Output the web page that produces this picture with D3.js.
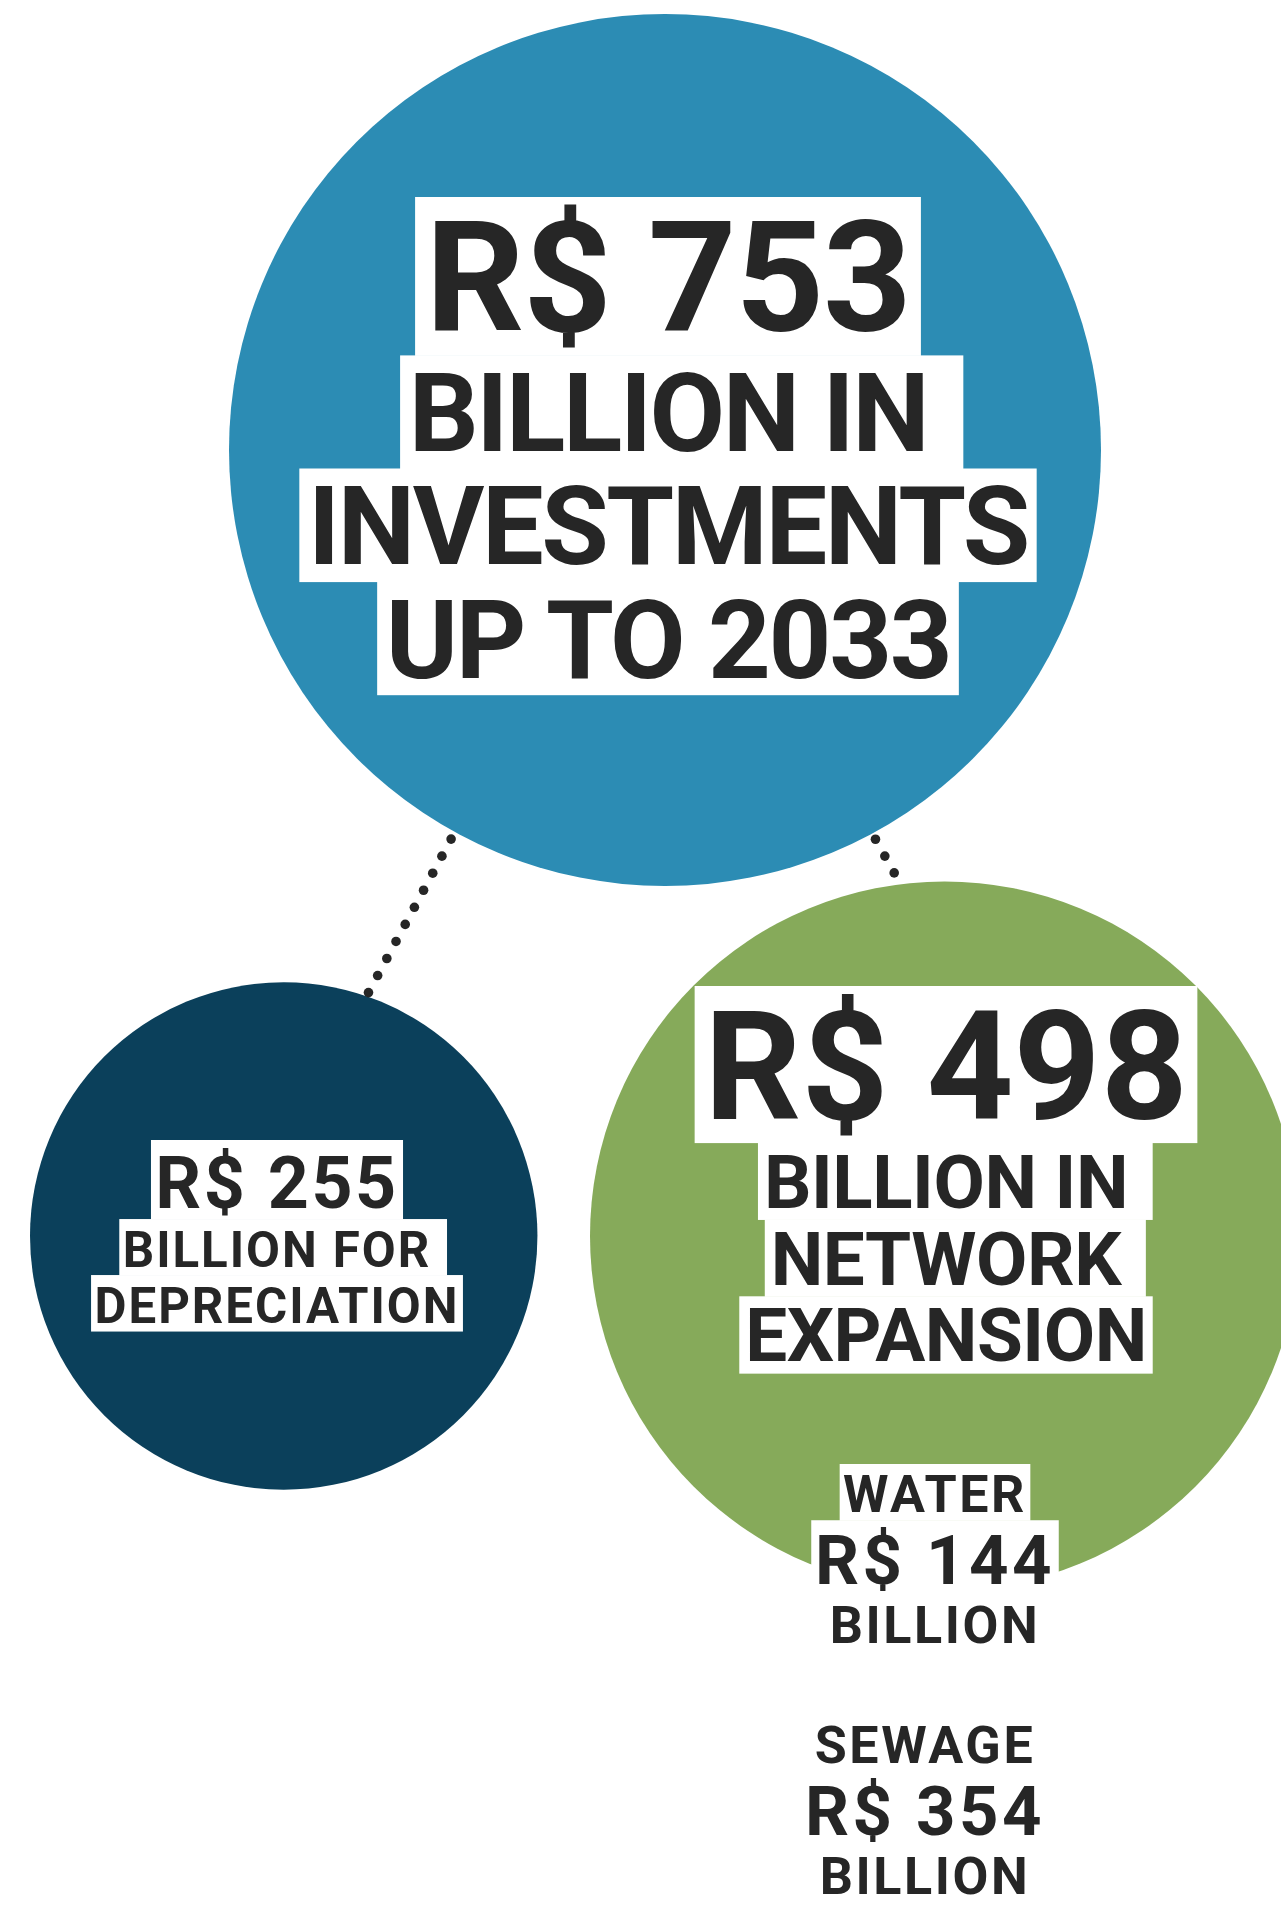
<!DOCTYPE html>
<html lang="en">
<head>
<meta charset="UTF-8">
<title>R$ 753 billion in investments up to 2033</title>
<script src="https://d3js.org/d3.v7.min.js"></script>
<style>
    body { margin: 0; background: #fff; }
    text { font-family: Roboto, "Noto Sans", sans-serif; font-weight: 700; fill: #262626; }
</style>
</head>
<body>
<svg id="chart"></svg>
<script>
// ---- data ----
const circleKeys = ["total", "depreciation", "expansion"];
const circleValues = [753, 255, 498];
const circleCaptions = [
    ["BILLION IN ", "INVESTMENTS", "UP TO 2033"],
    ["BILLION FOR ", "DEPRECIATION"],
    ["BILLION IN ", "NETWORK ", "EXPANSION"]
];
const splitNames = ["WATER", "SEWAGE"];
const splitValues = [144, 354];
const links = [["total", "depreciation"], ["total", "expansion"]];

// ---- layout ----
var svgWidth = 1281;
var svgHeight = 1911;
var CAP = 0.711;           // Roboto cap height / em
var colours = {total: "#2c8cb4", depreciation: "#0b405b", expansion: "#86aa5a"};

var r = d3.scaleSqrt().domain([0, 753]).range([0, 436]);

// bubble anchors and label blocks
var bubbleLayout = {
    total:        {cx: 665, cy: 14 + r(753), textX: 668, textTop: 197, caps: [110, 78], lead: [1.44, 1.45], track: [-0.008, -0.022]},
    depreciation: {cx: 30 + r(255), cy: 1236, textX: 277, textTop: 1140, caps: [51, 35], lead: [1.55, 1.6], track: [0.035, 0.04]},
    expansion:    {cx: 590 + r(498), cy: 1236, textX: 946, textTop: 986, caps: [108, 53], lead: [1.45, 1.45], track: [0, -0.006]}
};
var splitLayout = {
    WATER:  {x: 935, top: 1464},
    SEWAGE: {x: 925, top: 1715}
};
var splitCaps = [37, 49, 37];
// connector end points given as angle (deg) on each circle and distance outside the edge
var linkLayout = [
    {a1: 118.8, g1: 8, a2: -70.8, g2: 4},
    {a1: 61.6, g1: 6.5, a2: -97.9, g2: 12}
];

var svg = d3.select("#chart")
    .attr("width", svgWidth)
    .attr("height", svgHeight);

var circles = circleKeys.map(function(k, i) {
    var l = bubbleLayout[k];
    return {key: k, value: circleValues[i], x: l.cx, y: l.cy, r: r(circleValues[i])};
});
var byKey = {};
circles.forEach(function(c) { byKey[c.key] = c; });

// circles
svg.append("g")
    .selectAll("circle")
    .data(circles)
    .enter()
    .append("circle")
        .attr("cx", function(d) { return d.x; })
        .attr("cy", function(d) { return d.y; })
        .attr("r", function(d) { return d.r; })
        .attr("fill", function(d) { return colours[d.key]; });

// dotted connectors
function edgePoint(c, deg, gap) {
    var a = deg * Math.PI / 180;
    return [c.x + (c.r + gap) * Math.cos(a), c.y + (c.r + gap) * Math.sin(a)];
}
var dots = [];
links.forEach(function(lk, i) {
    var ll = linkLayout[i];
    var p0 = edgePoint(byKey[lk[0]], ll.a1, ll.g1);
    var p1 = edgePoint(byKey[lk[1]], ll.a2, ll.g2);
    var len = Math.hypot(p1[0] - p0[0], p1[1] - p0[1]);
    var n = Math.round(len / 19.3) + 1;
    d3.range(n).forEach(function(j) {
        var t = n > 1 ? j / (n - 1) : 0;
        dots.push([p0[0] + (p1[0] - p0[0]) * t, p0[1] + (p1[1] - p0[1]) * t]);
    });
});
svg.append("g")
    .selectAll("circle")
    .data(dots)
    .enter()
    .append("circle")
        .attr("cx", function(d) { return d[0]; })
        .attr("cy", function(d) { return d[1]; })
        .attr("r", 4.8)
        .attr("fill", "#262626");

// label block: white boxes behind each line of text
function drawBlock(g, lines, cx, top) {
    var y = top;
    lines.forEach(function(ln) {
        var size = ln.cap / CAP;
        var boxH = ln.cap * ln.lead;
        var baseline = y + boxH - 0.22 * ln.cap;
        var txt = ln.text.replace(/\s+$/, "");
        var trailing = ln.text !== txt;
        var rect = g.append("rect").attr("fill", "#fff");
        var t = g.append("text")
            .attr("x", cx)
            .attr("y", baseline)
            .attr("text-anchor", "middle")
            .style("font-size", size + "px")
            .style("letter-spacing", (ln.track || 0) + "em")
            .text(txt);
        var w = t.node().getComputedTextLength() - (ln.track || 0) * size;
        var pad = 0.07 * ln.cap + 2;
        var extra = trailing ? 0.25 * size : 0;
        rect.attr("x", cx - w / 2 - pad)
            .attr("y", y)
            .attr("width", w + 2 * pad + extra)
            .attr("height", boxH + 0.5);
        y += boxH;
    });
}

circleKeys.forEach(function(k, i) {
    var l = bubbleLayout[k];
    var lines = [{text: "R$ " + circleValues[i], cap: l.caps[0], lead: l.lead[0], track: l.track[0]}];
    circleCaptions[i].forEach(function(c) {
        lines.push({text: c, cap: l.caps[1], lead: l.lead[1], track: l.track[1]});
    });
    drawBlock(svg.append("g").attr("class", "label " + k), lines, l.textX, l.textTop);
});

splitNames.forEach(function(name, i) {
    var l = splitLayout[name];
    var lines = [name, "R$ " + splitValues[i], "BILLION"].map(function(t, j) {
        return {text: t, cap: splitCaps[j], lead: 1.52, track: 0.05};
    });
    drawBlock(svg.append("g").attr("class", "split"), lines, l.x, l.top);
});
</script>
</body>
</html>
